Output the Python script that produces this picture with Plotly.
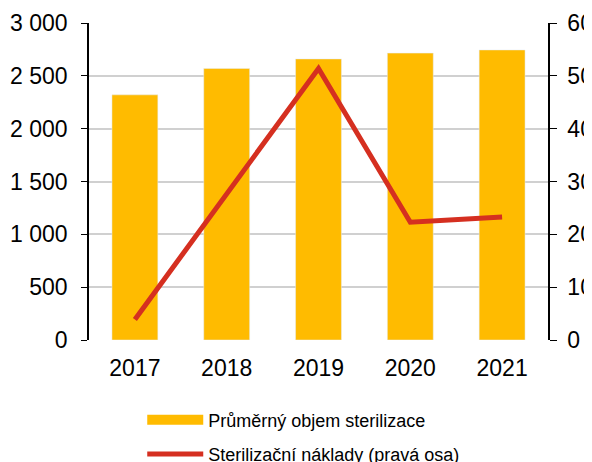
import plotly.graph_objects as go

years = ["2017", "2018", "2019", "2020", "2021"]
objem = [2320, 2570, 2660, 2715, 2745]
naklady = [3.9, 27.5, 51.4, 22.3, 23.3]

bar_color = "#FFBB00"
line_color = "#D52F20"
font_family = "Liberation Sans, Arial, sans-serif"

fig = go.Figure()
fig.add_trace(go.Bar(x=years, y=objem, marker_color=bar_color, width=0.5,
                     showlegend=False, name="Průměrný objem sterilizace"))
# legend proxy for the bar series (wide swatch)
fig.add_trace(go.Scatter(x=[None], y=[None], mode="lines",
                         line=dict(color=bar_color, width=10),
                         name="Průměrný objem sterilizace", legendgroup="a"))
fig.add_trace(go.Scatter(x=years, y=naklady, mode="lines", yaxis="y2",
                         line=dict(color=line_color, width=5),
                         name="Sterilizační náklady (pravá osa)", legendgroup="b"))

fig.update_layout(
    width=584, height=454,
    margin=dict(l=81, r=44, t=15, b=122, autoexpand=False),
    paper_bgcolor="white", plot_bgcolor="white",
    font=dict(family=font_family, size=23, color="#000"),
    separators=", ",
    bargap=0.5,
    xaxis=dict(showline=False, ticks="", showgrid=False, automargin=False,
               ticklabelstandoff=12),
    yaxis=dict(range=[0, 3000], dtick=500, tickformat=",.0f", automargin=False,
               showline=True, linecolor="#000", linewidth=1.5,
               ticks="outside", ticklen=6, tickcolor="#000", ticklabelstandoff=9,
               gridcolor="#D0D0D0", gridwidth=1.5, zeroline=False),
    yaxis2=dict(range=[0, 60], dtick=10, overlaying="y", side="right",
                automargin=False, ticklabelstandoff=6,
                showline=True, linecolor="#000", linewidth=1.5,
                ticks="outside", ticklen=7, tickcolor="#000",
                showgrid=False, zeroline=False),
    legend=dict(x=0.116, y=-0.194, xanchor="left", yanchor="top",
                font=dict(size=18), traceorder="grouped", tracegroupgap=8,
                itemwidth=56),
)

fig.write_html("out.html")
